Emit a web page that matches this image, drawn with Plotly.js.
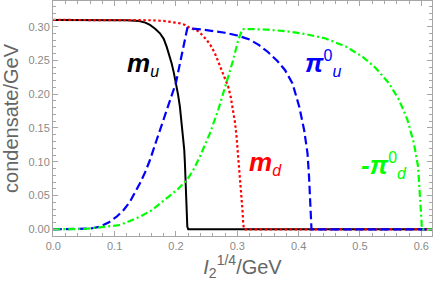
<!DOCTYPE html>
<html>
<head>
<meta charset="utf-8">
<script src="https://cdn.plot.ly/plotly-3.0.1.min.js"></script>
<style>html,body{margin:0;padding:0;background:#fff;}#plot{width:436px;height:286px;}</style>
</head>
<body>
<div id="plot"></div>
<script>
// m_u (black, solid)
const muX = [0, 0.05, 0.10, 0.12, 0.14, 0.15, 0.1576, 0.166, 0.1739, 0.18, 0.1848, 0.189, 0.1929, 0.1965, 0.200, 0.2035, 0.2064, 0.209, 0.2118, 0.2135, 0.2146, 0.2155, 0.2162, 0.2168, 0.2174, 0.2185, 0.220, 0.62];
const muY = [0.310, 0.310, 0.310, 0.3095, 0.3085, 0.306, 0.3025, 0.297, 0.2902, 0.282, 0.2704, 0.259, 0.2458, 0.232, 0.2162, 0.199, 0.1815, 0.161, 0.1371, 0.118, 0.0977, 0.076, 0.0533, 0.034, 0.0138, 0.004, 0, 0];
// m_d (red, dotted)
const mdX = [0, 0.10, 0.13, 0.16, 0.18, 0.19, 0.2064, 0.215, 0.2227, 0.2337, 0.242, 0.250, 0.257, 0.2635, 0.269, 0.2744, 0.280, 0.2852, 0.2895, 0.2933, 0.2963, 0.2988, 0.301, 0.3031, 0.305, 0.307, 0.3085, 0.3096, 0.311, 0.62];
const mdY = [0.310, 0.310, 0.310, 0.3095, 0.3085, 0.3075, 0.305, 0.3025, 0.298, 0.295, 0.2885, 0.2804, 0.2715, 0.2606, 0.2485, 0.2359, 0.224, 0.2112, 0.195, 0.1767, 0.158, 0.1371, 0.115, 0.0927, 0.070, 0.0483, 0.028, 0.0089, 0, 0];
// pi0_u (blue, dashed)
const puX = [0, 0.04, 0.06, 0.0761, 0.09, 0.1033, 0.115, 0.125, 0.134, 0.1413, 0.150, 0.1576, 0.1685, 0.1792, 0.185, 0.19, 0.195, 0.200, 0.205, 0.210, 0.2146, 0.2185, 0.240, 0.260, 0.280, 0.300, 0.320, 0.335, 0.350, 0.365, 0.378, 0.390, 0.401, 0.409, 0.4145, 0.417, 0.4188, 0.420, 0.421, 0.62];
const puY = [0, 0, 0.001, 0.0039, 0.010, 0.0187, 0.029, 0.0409, 0.055, 0.0681, 0.085, 0.1026, 0.1322, 0.1619, 0.176, 0.1915, 0.204, 0.217, 0.239, 0.261, 0.2815, 0.2976, 0.2960, 0.2940, 0.2910, 0.2870, 0.2810, 0.2730, 0.2625, 0.2495, 0.2355, 0.216, 0.1816, 0.147, 0.1126, 0.078, 0.0434, 0.009, 0, 0];
// -pi0_d (green, dash-dot)
const pdX = [0, 0.05, 0.0761, 0.109, 0.142, 0.160, 0.175, 0.190, 0.202, 0.218, 0.229, 0.239, 0.2553, 0.2689, 0.2826, 0.2933, 0.3015, 0.3086, 0.330, 0.350, 0.380, 0.410, 0.444, 0.477, 0.504, 0.526, 0.5475, 0.5638, 0.5775, 0.588, 0.5948, 0.598, 0.6003, 0.601, 0.62];
const pdY = [0, 0.0005, 0.003, 0.0064, 0.019, 0.028, 0.0387, 0.049, 0.0585, 0.073, 0.089, 0.1075, 0.142, 0.1767, 0.2162, 0.2507, 0.2803, 0.2965, 0.2962, 0.2955, 0.2932, 0.2893, 0.2825, 0.2705, 0.2557, 0.2385, 0.216, 0.1916, 0.162, 0.1274, 0.0927, 0.0533, 0.0138, 0, 0];

const xTitle = '<i>I</i><sub>2</sub><sup>1/4</sup>/GeV';
const yTitle = 'condensate/GeV';
const SM = '<span style="font-size:16px">';
const labels = [
  {text: '<b><i>m</i></b><sub>' + SM + '<i>u</i></span></sub>', x: 0.1168, y: 0.2448, color: '#000000'},
  {text: '<b><i>m</i></b><sub>' + SM + '<i>d</i></span></sub>', x: 0.3156, y: 0.0979, color: '#ff0000'},
  {text: '<b><i>π</i></b><sup>' + SM + '0</span></sup><sub>' + SM + '<i>u</i></span></sub>', x: 0.407, y: 0.2448, color: '#0000ff'},
  {text: '<b><i>-π</i></b><sup>' + SM + '0</span></sup><sub>' + SM + '<i>d</i></span></sub>', x: 0.4977, y: 0.0952, color: '#00ff00'}
];

const FONT = 'Liberation Sans, Arial, sans-serif';
const frame = '#a6a6a6';

const traces = [
  {x: muX, y: muY, mode: 'lines', line: {color: '#000000', width: 2, dash: 'solid'}},
  {x: mdX, y: mdY, mode: 'lines', line: {color: '#ff0000', width: 2.2, dash: '2.5px,2.5px'}},
  {x: puX, y: puY, mode: 'lines', line: {color: '#0000ff', width: 2.2, dash: '8.5px,4px'}},
  {x: pdX, y: pdY, mode: 'lines', line: {color: '#00ff00', width: 2.2, dash: '7px,3px,2px,3px'}}
];

function axisCommon() {
  return {
    showline: true, linecolor: frame, linewidth: 1, mirror: 'ticks',
    ticks: 'inside', ticklen: 5, tickwidth: 1, tickcolor: frame,
    showgrid: false, zeroline: false,
    tickfont: {family: FONT, size: 11, color: '#8a8a8a'}
  };
}

const layout = {
  width: 436, height: 286,
  margin: {l: 53, r: 4, t: 1, b: 50, pad: 0},
  paper_bgcolor: '#ffffff', plot_bgcolor: '#ffffff',
  showlegend: false,
  font: {family: FONT},
  xaxis: Object.assign(axisCommon(), {
    range: [-0.0005, 0.6175], tick0: 0, dtick: 0.1, tickformat: '.1f',
    minor: {dtick: 0.02, tick0: 0, ticks: 'inside', ticklen: 3, tickcolor: frame, showgrid: false},
    title: {text: xTitle, font: {family: FONT, size: 20, color: '#666666'}, standoff: 8}
  }),
  yaxis: Object.assign(axisCommon(), {
    range: [-0.0099, 0.338], tick0: 0, dtick: 0.05, tickformat: '.2f',
    minor: {dtick: 0.01, tick0: 0, ticks: 'inside', ticklen: 3, tickcolor: frame, showgrid: false},
    title: {text: yTitle, font: {family: FONT, size: 20, color: '#666666'}, standoff: 8}
  }),
  annotations: labels.map(l => ({
    text: l.text, x: l.x, y: l.y, xref: 'x', yref: 'y',
    xanchor: 'left', yanchor: 'middle', showarrow: false,
    font: {family: FONT, size: 26, color: l.color}
  }))
};

Plotly.newPlot('plot', traces, layout, {staticPlot: true, displayModeBar: false});
</script>
</body>
</html>
